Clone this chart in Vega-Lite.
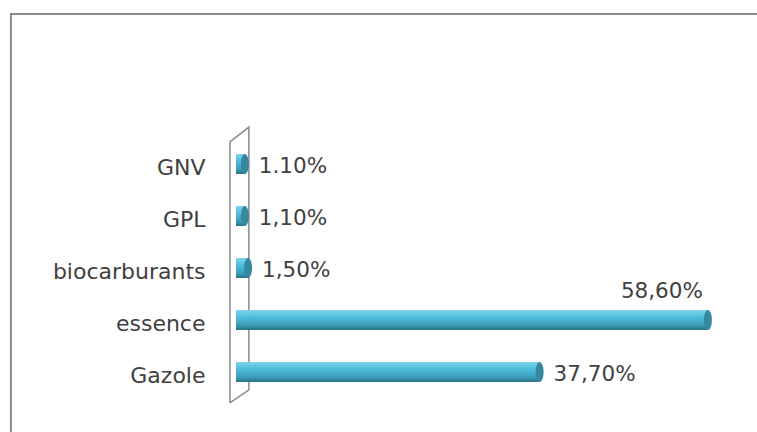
{
  "$schema": "https://vega.github.io/schema/vega-lite/v6.json",
  "width": 521,
  "height": 260,
  "autosize": {"type": "none"},
  "padding": {"left": 236, "top": 138, "right": 0, "bottom": 34},
  "background": "white",
  "config": {"view": {"stroke": null}, "font": "DejaVu Sans"},
  "datasets": {
    "fuel": [
      {"carburant": "GNV", "valeur": 1.1, "etiquette": "1.10%"},
      {"carburant": "GPL", "valeur": 1.1, "etiquette": "1,10%"},
      {"carburant": "biocarburants", "valeur": 1.5, "etiquette": "1,50%"},
      {"carburant": "essence", "valeur": 58.6, "etiquette": "58,60%"},
      {"carburant": "Gazole", "valeur": 37.7, "etiquette": "37,70%"}
    ],
    "cadre": [
      {"piece": "bordure", "ordre": 1, "x": -27.95, "y": -0.15},
      {"piece": "bordure", "ordre": 2, "x": -27.95, "y": 1.477},
      {"piece": "bordure", "ordre": 3, "x": 66, "y": 1.477},
      {"piece": "mur", "ordre": 1, "x": -0.75, "y": -0.019},
      {"piece": "mur", "ordre": 2, "x": -0.75, "y": 0.985},
      {"piece": "mur", "ordre": 3, "x": 1.6, "y": 1.042},
      {"piece": "mur", "ordre": 4, "x": 1.6, "y": 0.031},
      {"piece": "mur", "ordre": 5, "x": -0.75, "y": -0.019}
    ]
  },
  "resolve": {"scale": {"y": "independent"}},
  "layer": [
    {
      "data": {"name": "cadre"},
      "transform": [{"filter": "datum.piece == 'bordure'"}],
      "mark": {"type": "line", "stroke": "#8a8a8a", "strokeWidth": 2},
      "encoding": {
        "x": {"field": "x", "type": "quantitative", "scale": {"domain": [0, 64.7], "nice": false, "zero": false}, "axis": null},
        "y": {"field": "y", "type": "quantitative", "scale": {"domain": [0, 1], "nice": false, "zero": false}, "axis": null},
        "order": {"field": "ordre"}
      }
    },
    {
      "data": {"name": "cadre"},
      "transform": [{"filter": "datum.piece == 'mur'"}],
      "mark": {"type": "line", "stroke": "#8a8a8a", "strokeWidth": 1.5},
      "encoding": {
        "x": {"field": "x", "type": "quantitative", "scale": {"domain": [0, 64.7], "nice": false, "zero": false}, "axis": null},
        "y": {"field": "y", "type": "quantitative", "scale": {"domain": [0, 1], "nice": false, "zero": false}, "axis": null},
        "order": {"field": "ordre"}
      }
    },
    {
      "data": {"name": "fuel"},
      "encoding": {
        "y": {
          "field": "carburant",
          "type": "nominal",
          "sort": ["GNV", "GPL", "biocarburants", "essence", "Gazole"],
          "scale": {"paddingInner": 0, "paddingOuter": 0},
          "axis": {
            "title": null,
            "ticks": false,
            "domain": false,
            "grid": false,
            "labelPadding": 31,
            "labelOffset": 4,
            "labelFontSize": 22,
            "labelFont": "DejaVu Sans",
            "labelColor": "#404040",
            "labelLimit": 300
          }
        }
      },
      "layer": [
        {
          "mark": {
            "type": "bar",
            "size": 20,
            "color": {
              "x1": 0, "y1": 0, "x2": 0, "y2": 1,
              "gradient": "linear",
              "stops": [
                {"offset": 0, "color": "#7fd3ea"},
                {"offset": 0.35, "color": "#4fbedd"},
                {"offset": 0.75, "color": "#3c9fba"},
                {"offset": 1, "color": "#2b6f82"}
              ]
            }
          },
          "encoding": {
            "x": {"field": "valeur", "type": "quantitative", "scale": {"domain": [0, 64.7], "nice": false}, "axis": null}
          }
        },
        {
          "mark": {
            "type": "point",
            "shape": "M0,-1 A0.4,1 0 1,1 0,1 A0.4,1 0 1,1 0,-1 Z",
            "size": 400,
            "filled": true,
            "opacity": 1,
            "color": "#35889f"
          },
          "encoding": {
            "x": {"field": "valeur", "type": "quantitative"}
          }
        },
        {
          "transform": [{"filter": "datum.carburant != 'essence'"}],
          "mark": {"type": "text", "align": "left", "baseline": "middle", "dx": 14, "dy": 3, "fontSize": 21.5, "font": "DejaVu Sans", "color": "#404040"},
          "encoding": {
            "x": {"field": "valeur", "type": "quantitative"},
            "text": {"field": "etiquette"}
          }
        },
        {
          "transform": [{"filter": "datum.carburant == 'essence'"}],
          "mark": {"type": "text", "align": "right", "baseline": "middle", "dx": -5, "dy": -28, "fontSize": 21.5, "font": "DejaVu Sans", "color": "#404040"},
          "encoding": {
            "x": {"field": "valeur", "type": "quantitative"},
            "text": {"field": "etiquette"}
          }
        }
      ]
    }
  ]
}
